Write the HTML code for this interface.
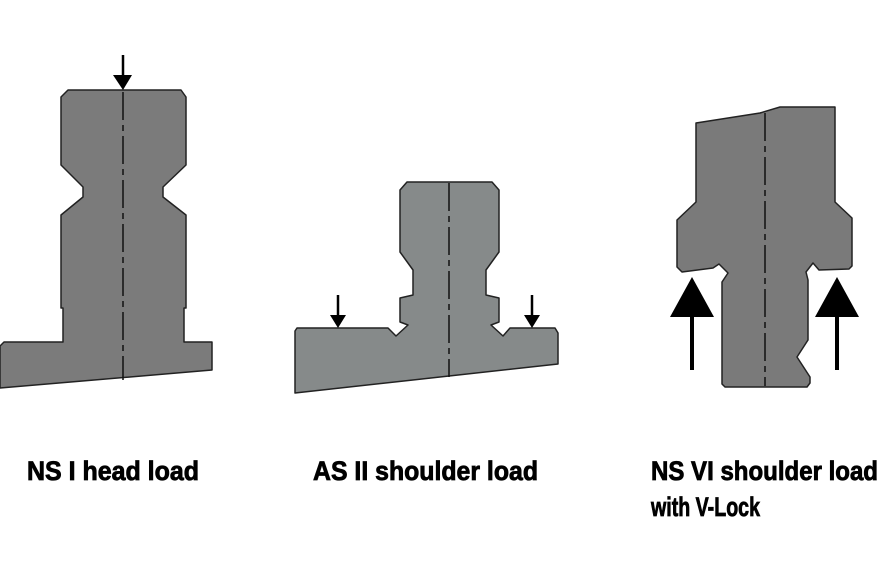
<!DOCTYPE html>
<html><head><style>html,body{margin:0;padding:0;background:#fff;width:880px;height:587px;overflow:hidden}</style></head>
<body>
<svg width="880" height="587" viewBox="0 0 880 587" xmlns="http://www.w3.org/2000/svg">
<g stroke="#222" stroke-width="1.5" stroke-linejoin="round">
<polygon fill="#7b7b7b" points="61,97 68,90 181,90 186,97 186,165 163,187 163,197 186,215 186,308 184,308 184,342 212,342 212,370 0,388 0,346 4,342 63,342 63,308 61,308 61,215 83,197 83,187 61,165"/>
<polygon fill="#868a8a" points="400,190 407,182 492,182 499,190 499,252 486,270 486,295 499,298 499,322 491,325 503,336 510,328 555,328 558,333 558,364 295,393 295,331 297,328 388,328 396,336 408,325 400,322 400,298 413,295 413,270 400,252"/>
<polygon fill="#7a7a7a" points="696,123 760,113 780,107 835,107 835,202 852,218 852,266 849,269 819,270 813,263 806,272 808,280 808,340 797,357 810,377 810,383 807,387 725,387 722,384 722,282 728,273 719,264 713,268 682,272 677,267 677,220 696,202"/>
</g>
<g stroke="#111" stroke-width="1.5" stroke-dasharray="28,5,6,5" fill="none">
<line x1="123" y1="92" x2="123" y2="380"/>
<line x1="449" y1="183" x2="449" y2="377"/>
<line x1="765" y1="113" x2="765" y2="386"/>
</g>
<g fill="#000" stroke="#000">
<line x1="123" y1="55" x2="123" y2="76" stroke-width="2.5"/>
<polygon points="113,75 132,75 123,90" stroke="none"/>
<line x1="338" y1="295" x2="338" y2="316" stroke-width="2.5"/>
<polygon points="330,315 346,315 338,328" stroke="none"/>
<line x1="532" y1="295" x2="532" y2="316" stroke-width="2.5"/>
<polygon points="524,315 540,315 532,328" stroke="none"/>
<line x1="692" y1="315" x2="692" y2="370" stroke-width="4"/>
<polygon points="670,317 714,317 692,277" stroke="none"/>
<line x1="837" y1="315" x2="837" y2="370" stroke-width="4"/>
<polygon points="815,317 859,317 837,277" stroke="none"/>
</g>
<g font-family="Liberation Sans, sans-serif" font-weight="bold" font-size="27" fill="#000" stroke="#000" stroke-width="0.8">
<text x="27" y="480" textLength="172" lengthAdjust="spacingAndGlyphs">NS I head load</text>
<text x="313" y="480" textLength="225" lengthAdjust="spacingAndGlyphs">AS II shoulder load</text>
<text x="651" y="480" textLength="227" lengthAdjust="spacingAndGlyphs">NS VI shoulder load</text>
<text x="651" y="516" textLength="109" lengthAdjust="spacingAndGlyphs">with V-Lock</text>
</g>
</svg>
</body></html>
